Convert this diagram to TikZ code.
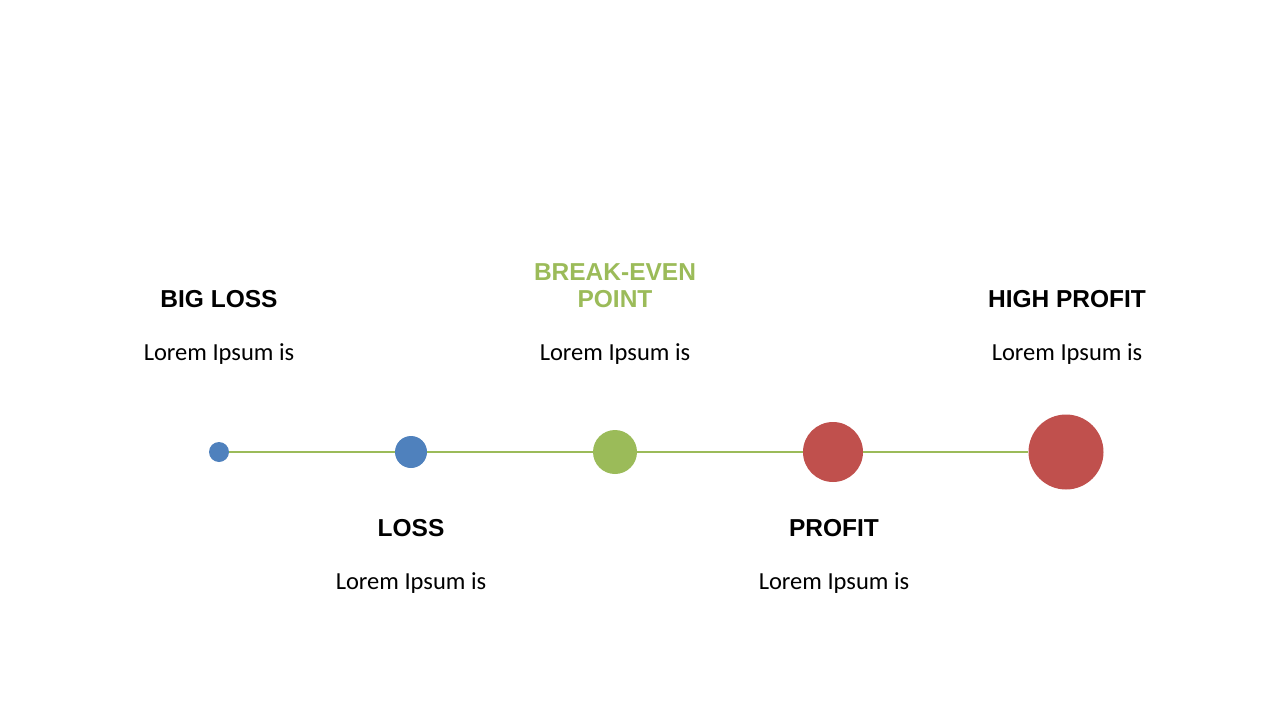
\documentclass[tikz,border=0pt]{standalone}
\usepackage{fontspec}
\setmainfont{Carlito}
\newfontfamily\hd{Liberation Sans}
\definecolor{cb}{HTML}{4F81BD}
\definecolor{cg}{HTML}{9BBB59}
\definecolor{cr}{HTML}{C0504D}
\begin{document}
\begin{tikzpicture}[x=1pt,y=-1pt,
  dot/.style={circle,inner sep=0pt,draw=none},
  head/.style={font=\hd\bfseries\fontsize{24.5}{27}\selectfont,align=center},
  body/.style={font=\fontsize{24.5}{28}\selectfont}]
\useasboundingbox (0,0) rectangle (1280,720);
\node[dot,fill=cb,minimum size=20] (a) at (219,452) {};
\node[dot,fill=cb,minimum size=32] (b) at (411,452) {};
\node[dot,fill=cg,minimum size=44] (c) at (615,452) {};
\node[dot,fill=cr,minimum size=60] (d) at (833,452) {};
\node[dot,fill=cr,minimum size=75] (e) at (1066,452) {};
\draw[cg,line width=1.5] (a)--(b) (b)--(c) (c)--(d) (d)--(e);
\node[head] (ha) at (219,299) {BIG LOSS};
\node[body] (ba) at (219,354) {Lorem Ipsum is};
\node[head,text=cg] (hc) at (615,286) {BREAK-EVEN\\POINT};
\node[body] (bc) at (615,354) {Lorem Ipsum is};
\node[head] (he) at (1067,299) {HIGH PROFIT};
\node[body] (be) at (1067,354) {Lorem Ipsum is};
\node[head] (hb) at (411,528) {LOSS};
\node[body] (bb) at (411,583) {Lorem Ipsum is};
\node[head] (hd) at (834,528) {PROFIT};
\node[body] (bd) at (834,583) {Lorem Ipsum is};
\end{tikzpicture}
\end{document}
